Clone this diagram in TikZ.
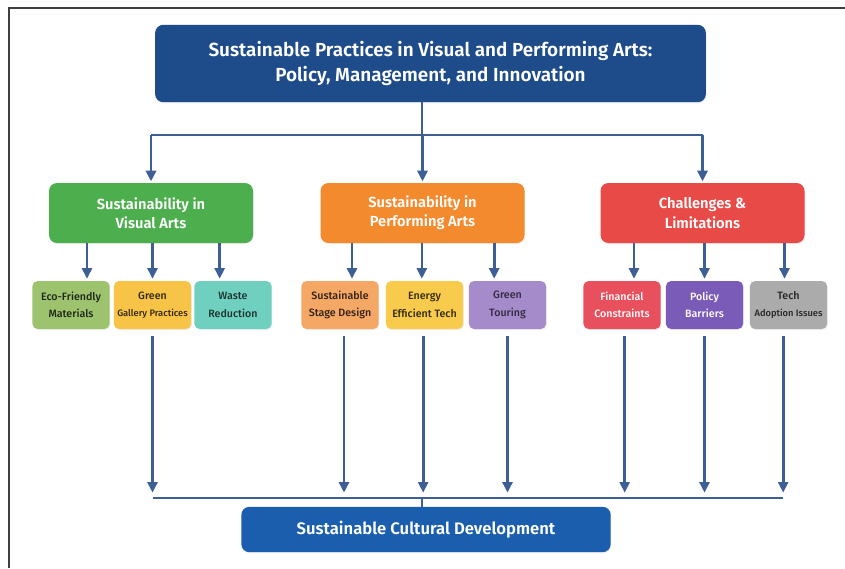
\documentclass[tikz,border=0pt]{standalone}
\usepackage{fontspec}
\setmainfont{Fira Sans}[UprightFont=* Medium, BoldFont=* SemiBold]
\usepackage{tikz}
\usetikzlibrary{arrows.meta,positioning,shadows}

\definecolor{linkblue}{HTML}{3D5F95}
\definecolor{titleblue}{HTML}{1E4B8A}
\definecolor{goalblue}{HTML}{1A5EAD}
\definecolor{visgreen}{HTML}{4DAE4E}
\definecolor{perforange}{HTML}{F48A2E}
\definecolor{limred}{HTML}{E84A47}
\definecolor{ecocol}{HTML}{9DC36E}
\definecolor{gallerycol}{HTML}{F8C447}
\definecolor{wastecol}{HTML}{6FD0BF}
\definecolor{stagecol}{HTML}{F5A765}
\definecolor{energycol}{HTML}{F8CB4C}
\definecolor{touringcol}{HTML}{A68BCB}
\definecolor{financecol}{HTML}{E9505E}
\definecolor{policycol}{HTML}{7A5BB7}
\definecolor{techcol}{HTML}{ABABAB}

\begin{document}
\begin{tikzpicture}[x=0.75pt, y=-0.75pt,
                    link/.style={line width=2pt, draw=linkblue},
                    arrow/.style={link, -{Triangle[width=7.5pt,length=8pt]}},
                    box/.style={rounded corners=6pt, align=center, inner sep=2pt,
                                drop shadow={opacity=0.12, shadow xshift=0.6pt, shadow yshift=-0.9pt}},
                    titlebox/.style={box, fill=titleblue, text=white, font=\bfseries\fontsize{14.2}{19}\selectfont,
                                     minimum width=413pt, minimum height=58pt},
                    catbox/.style={box, text=white, font=\bfseries\fontsize{11}{14.5}\selectfont,
                                   minimum width=153pt, minimum height=45pt},
                    subbox/.style={box, rounded corners=4pt, font=\fontsize{8}{13}\selectfont,
                                   minimum width=58pt, minimum height=36pt},
                    goalbox/.style={box, fill=goalblue, text=white, font=\bfseries\fontsize{12.5}{14}\selectfont,
                                    minimum width=277pt, minimum height=34pt},
                   ]

\useasboundingbox (0,0) rectangle (845,568);
\draw[line width=2pt, black!75] (9,568) -- (9,8) -- (845,8);

% top title
\node[titlebox] (top) at (430.5,63.5) {Sustainable Practices in Visual and Performing Arts:\\Policy, Management, and Innovation};

% three branches
\node[catbox, fill=visgreen]   (visual)  at (151,213)   {Sustainability in\\Visual Arts};
\node[catbox, fill=perforange] (perform) at (422.5,213) {Sustainability in\\Performing Arts};
\node[catbox, fill=limred]     (limits)  at (702.5,213) {Challenges \&\\Limitations};

% leaves
\node[subbox, fill=ecocol,     text=black!80!ecocol]     (eco)     at (71,305)    {Eco-Friendly\\Materials};
\node[subbox, fill=gallerycol, text=black!80!gallerycol] (gallery) at (152.5,305) {Green\\{\fontsize{7}{9}\selectfont Gallery Practices}};
\node[subbox, fill=wastecol,   text=black!75!wastecol]   (waste)   at (233,305)   {Waste\\Reduction};
\node[subbox, fill=stagecol,   text=black!80!stagecol]   (stage)   at (340,305)   {Sustainable\\Stage Design};
\node[subbox, fill=energycol,  text=black!80!energycol]  (energy)  at (424.5,305) {Energy\\Efficient Tech};
\node[subbox, fill=touringcol, text=black!70!touringcol] (touring) at (507.5,305) {Green\\Touring};
\node[subbox, fill=financecol, text=white]               (finance) at (622,305)   {Financial\\Constraints};
\node[subbox, fill=policycol,  text=white]               (policy)  at (704.5,305) {Policy\\Barriers};
\node[subbox, fill=techcol,    text=black!85]            (techad)  at (788.5,305) {Tech\\{\fontsize{7}{9}\selectfont Adoption Issues}};

% final outcome
\node[goalbox] (goal) at (426,529.5) {Sustainable Cultural Development};

% title to branches
\coordinate (split) at (422,135);
\draw[link] (split |- top.south) -- (split);
\draw[link] (visual.north |- split) -- (limits.north |- split);
\foreach \n in {visual,perform,limits}
  \draw[arrow, shorten >=1pt] (\n.north |- split) -- (\n.north);

% branches to leaves
\foreach \n/\s/\dx in {visual/eco/12pt, visual/gallery/0pt, visual/waste/-10pt,
                       perform/stage/9pt, perform/energy/-2pt, perform/touring/-10pt,
                       limits/finance/9pt, limits/policy/0pt, limits/techad/-3pt}
  \draw[arrow, shorten >=1.5pt] ([xshift=\dx]\s.north |- \n.south) -- ([xshift=\dx]\s.north);

% leaves to outcome
\coordinate (merge) at (422,498);
\foreach \s/\dx in {gallery/0pt, stage/3pt, energy/-1pt, touring/0pt,
                    finance/2pt, policy/0pt, techad/-4pt}
  \draw[arrow, shorten <=5pt, shorten >=4pt] ([xshift=\dx]\s.south) -- ([xshift=\dx]\s.south |- merge);
\draw[link] (gallery.south |- merge) -- ([xshift=-4pt]techad.south |- merge);
\draw[link] (merge) -- (merge |- goal.north);

\end{tikzpicture}
\end{document}
